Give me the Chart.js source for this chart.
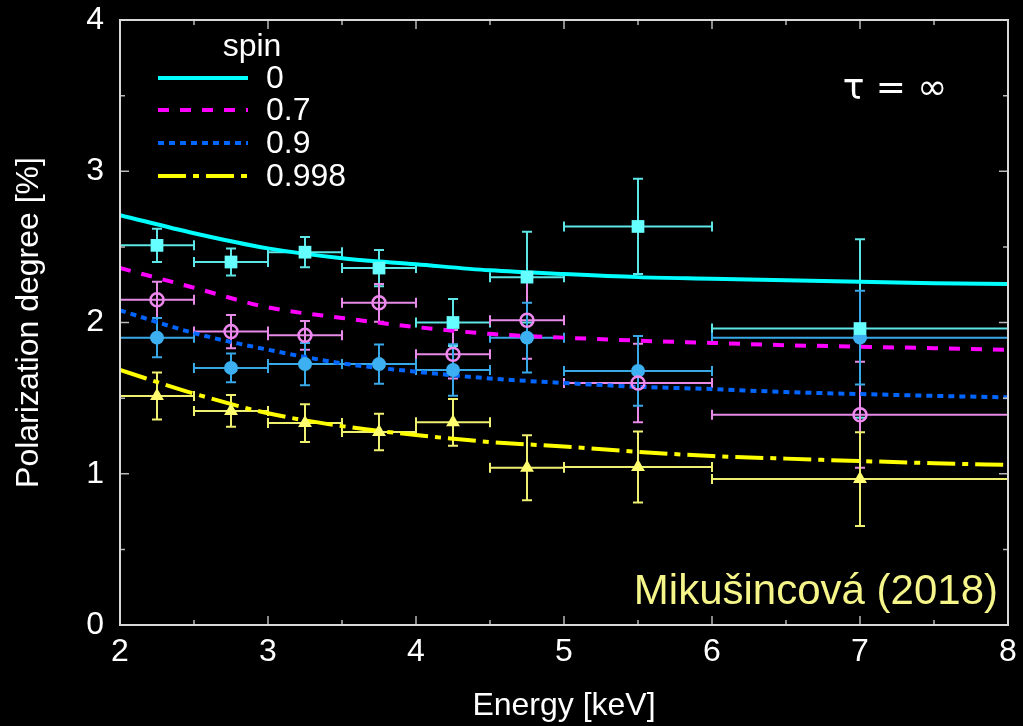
<!DOCTYPE html>
<html>
<head>
<meta charset="utf-8">
<script src="https://cdn.jsdelivr.net/npm/chart.js@4.4.1/dist/chart.umd.min.js"></script>
<style>
html,body{margin:0;padding:0;background:#000;}
canvas{display:block;}
</style>
</head>
<body>
<canvas id="c" width="1023" height="726"></canvas>
<script>
// ---- data ----
const energyCenters = [2.25, 2.75, 3.25, 3.75, 4.25, 4.75, 5.5, 7];
const binLow  = [2, 2.5, 3, 3.5, 4, 4.5, 5, 6];
const binHigh = [2.5, 3, 3.5, 4, 4.5, 5, 6, 8];

const spin0Vals   = [2.51, 2.40, 2.465, 2.36, 2.00, 2.30, 2.635, 1.96];
const spin0Errs   = [0.11, 0.09, 0.10, 0.12, 0.155, 0.30, 0.315, 0.59];
const spin07Vals  = [2.15, 1.94, 1.915, 2.13, 1.79, 2.015, 1.60, 1.39];
const spin07Errs  = [0.12, 0.11, 0.095, 0.125, 0.16, 0.255, 0.26, 0.35];
const spin09Vals  = [1.90, 1.70, 1.725, 1.725, 1.686, 1.90, 1.68, 1.90];
const spin09Errs  = [0.13, 0.095, 0.14, 0.13, 0.17, 0.23, 0.23, 0.31];
const spin998Vals = [1.514, 1.415, 1.335, 1.276, 1.34, 1.04, 1.045, 0.965];
const spin998Errs = [0.155, 0.105, 0.125, 0.12, 0.155, 0.215, 0.235, 0.31];

const curveEnergy    = [2, 2.5, 3, 3.5, 4, 4.5, 5, 5.5, 6, 6.5, 7, 7.5, 8];
const spin0Model     = [2.71, 2.59, 2.49, 2.425, 2.385, 2.345, 2.32, 2.30, 2.29, 2.28, 2.27, 2.26, 2.255];
const spin07Model    = [2.36, 2.23, 2.10, 2.03, 1.97, 1.925, 1.90, 1.88, 1.865, 1.85, 1.84, 1.83, 1.82];
const spin09Model    = [2.08, 1.93, 1.82, 1.73, 1.675, 1.63, 1.60, 1.575, 1.56, 1.54, 1.527, 1.515, 1.505];
const spin998Model   = [1.686, 1.53, 1.40, 1.315, 1.256, 1.21, 1.18, 1.145, 1.117, 1.10, 1.084, 1.07, 1.058];

const spinLabels = ['0', '0.7', '0.9', '0.998'];
const legendTitle = 'spin';
const xTitle = 'Energy [keV]';
const yTitle = 'Polarization degree [%]';
const tauText = 'τ = ∞';
const creditText = 'Mikušincová (2018)';

// ---- styles ----
const FONT = "'Liberation Sans', Arial, Helvetica, sans-serif";
const lineColors = ['#00ffff', '#ff00ff', '#0066ff', '#ffff00'];
const lineDash = [[], [11, 11], [6, 5], [28, 7, 6, 7]];
const markColors = ['#66ffff', '#ee88ee', '#3cb0f0', '#ffff70'];
const barColors = ['#5ee6e6', '#e88ae8', '#38a8e6', '#f0f070'];

const seriesVals = [spin0Vals, spin07Vals, spin09Vals, spin998Vals];
const seriesErrs = [spin0Errs, spin07Errs, spin09Errs, spin998Errs];
const seriesModels = [spin0Model, spin07Model, spin09Model, spin998Model];

const pts = (xs, ys) => xs.map((x, i) => ({x: x, y: ys[i]}));

const datasets = [];
seriesModels.forEach((m, i) => {
  datasets.push({
    label: 'model ' + spinLabels[i],
    data: pts(curveEnergy, m),
    borderColor: lineColors[i],
    borderWidth: 4,
    borderDash: lineDash[i],
    pointRadius: 0,
    showLine: true,
    fill: false,
    cubicInterpolationMode: 'monotone',
    order: 2
  });
});
const markStyles = ['rect', 'circle', 'circle', 'triangle'];
const markRadius = [9, 6.5, 7, 8];
seriesVals.forEach((v, i) => {
  datasets.push({
    label: 'data ' + spinLabels[i],
    data: pts(energyCenters, v),
    showLine: false,
    pointStyle: markStyles[i],
    pointRadius: markRadius[i],
    pointBackgroundColor: i === 1 ? 'rgba(0,0,0,0)' : markColors[i],
    pointBorderColor: markColors[i],
    pointBorderWidth: i === 1 ? 2.5 : 0,
    order: 1
  });
});

const bgPlugin = {
  id: 'bg',
  beforeDraw(c) {
    const ctx = c.ctx;
    ctx.save();
    ctx.fillStyle = '#000';
    ctx.fillRect(0, 0, c.width, c.height);
    ctx.restore();
  }
};

const errPlugin = {
  id: 'errbars',
  beforeDatasetsDraw(c) {
    const ctx = c.ctx, xs = c.scales.x, ys = c.scales.y;
    const cap = 5;
    ctx.save();
    ctx.lineWidth = 2;
    seriesVals.forEach((vals, s) => {
      ctx.strokeStyle = barColors[s];
      vals.forEach((v, k) => {
        const xc = xs.getPixelForValue(energyCenters[k]);
        const xl = xs.getPixelForValue(binLow[k]);
        const xh = xs.getPixelForValue(binHigh[k]);
        const yc = ys.getPixelForValue(v);
        const yt = ys.getPixelForValue(v + seriesErrs[s][k]);
        const yb = ys.getPixelForValue(v - seriesErrs[s][k]);
        ctx.beginPath();
        ctx.moveTo(xl, yc); ctx.lineTo(xh, yc);
        ctx.moveTo(xl, yc - cap); ctx.lineTo(xl, yc + cap);
        ctx.moveTo(xh, yc - cap); ctx.lineTo(xh, yc + cap);
        ctx.moveTo(xc, yt); ctx.lineTo(xc, yb);
        ctx.moveTo(xc - cap, yt); ctx.lineTo(xc + cap, yt);
        ctx.moveTo(xc - cap, yb); ctx.lineTo(xc + cap, yb);
        ctx.stroke();
      });
    });
    ctx.restore();
  }
};

const framePlugin = {
  id: 'frame',
  afterDraw(c) {
    const ctx = c.ctx, a = c.chartArea, xs = c.scales.x, ys = c.scales.y;
    ctx.save();
    // ticks (inward, mirrored)
    ctx.strokeStyle = '#b8b8b8';
    ctx.lineWidth = 1.5;
    ctx.beginPath();
    for (let v = 2; v <= 8.001; v += 0.5) {
      const len = Math.abs(v - Math.round(v)) < 1e-6 ? 9 : 5;
      const x = xs.getPixelForValue(v);
      ctx.moveTo(x, a.bottom); ctx.lineTo(x, a.bottom - len);
      ctx.moveTo(x, a.top); ctx.lineTo(x, a.top + len);
    }
    for (let v = 0; v <= 4.001; v += 0.5) {
      const len = Math.abs(v - Math.round(v)) < 1e-6 ? 9 : 5;
      const y = ys.getPixelForValue(v);
      ctx.moveTo(a.left, y); ctx.lineTo(a.left + len, y);
      ctx.moveTo(a.right, y); ctx.lineTo(a.right - len, y);
    }
    ctx.stroke();
    // border
    ctx.strokeStyle = '#d8d8d8';
    ctx.lineWidth = 2;
    ctx.strokeRect(a.left, a.top, a.right - a.left, a.bottom - a.top);

    // legend
    ctx.fillStyle = '#ffffff';
    ctx.font = '32px ' + FONT;
    ctx.textBaseline = 'middle';
    ctx.textAlign = 'center';
    ctx.fillText(legendTitle, 252, 47);
    ctx.textAlign = 'left';
    const rowY = [78, 110, 143, 176];
    spinLabels.forEach((lab, i) => {
      ctx.save();
      ctx.strokeStyle = lineColors[i];
      ctx.lineWidth = 4;
      ctx.setLineDash(lineDash[i]);
      ctx.beginPath();
      ctx.moveTo(158, rowY[i]); ctx.lineTo(248, rowY[i]);
      ctx.stroke();
      ctx.restore();
      ctx.fillStyle = '#ffffff';
      ctx.fillText(lab, 266, rowY[i] + 1);
    });

    // tau annotation
    ctx.font = "36px 'DejaVu Sans', sans-serif";
    ctx.textAlign = 'center';
    ctx.fillText(tauText, 895, 90);

    // credit
    ctx.fillStyle = '#f5f58a';
    ctx.font = '42px ' + FONT;
    ctx.textAlign = 'right';
    ctx.textBaseline = 'alphabetic';
    ctx.fillText(creditText, 998, 604);
    ctx.restore();
  }
};

new Chart(document.getElementById('c'), {
  type: 'scatter',
  data: { datasets: datasets },
  options: {
    responsive: false,
    animation: false,
    devicePixelRatio: 1,
    layout: { padding: { top: 20, right: 15, left: 0, bottom: 0 } },
    plugins: { legend: { display: false }, tooltip: { enabled: false } },
    scales: {
      x: {
        type: 'linear', min: 2, max: 8,
        afterFit(s) { s.height = 101; s.paddingLeft = 0; s.paddingRight = 0; },
        grid: { display: false, drawTicks: false },
        border: { display: false },
        ticks: { stepSize: 1, color: '#ffffff', padding: 8, font: { family: FONT, size: 32 } },
        title: { display: true, text: xTitle, color: '#ffffff', padding: { top: 0, bottom: 1 }, font: { family: FONT, size: 32 } }
      },
      y: {
        type: 'linear', min: 0, max: 4,
        afterFit(s) { s.width = 120; s.paddingTop = 0; s.paddingBottom = 0; },
        grid: { display: false, drawTicks: false },
        border: { display: false },
        ticks: { stepSize: 1, color: '#ffffff', padding: 16, font: { family: FONT, size: 32 } },
        title: { display: true, text: yTitle, color: '#ffffff', padding: { top: 10, bottom: 0 }, font: { family: FONT, size: 32 } }
      }
    }
  },
  plugins: [bgPlugin, errPlugin, framePlugin]
});
</script>
</body>
</html>
